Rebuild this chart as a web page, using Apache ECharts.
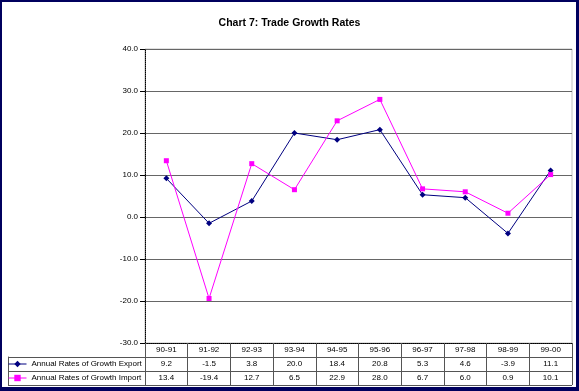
<!DOCTYPE html>
<html>
<head>
<meta charset="utf-8">
<script src="https://cdn.jsdelivr.net/npm/echarts@6/dist/echarts.min.js"></script>
<style>
html,body{margin:0;padding:0;background:#fff;}
#wrap{position:relative;width:579px;height:391px;}
#chart{position:absolute;left:0;top:0;width:579px;height:391px;}
#frame{position:absolute;left:0;top:0;width:579px;height:391px;box-sizing:border-box;border-style:solid;border-color:#00005e;border-width:2px 3px 4px 2px;pointer-events:none;}
</style>
</head>
<body>
<div id="wrap"><div id="chart"></div><div id="frame"></div></div>
<script>
const categories = ['90-91','91-92','92-93','93-94','94-95','95-96','96-97','97-98','98-99','99-00'];
const exportsGrowth = [9.2, -1.5, 3.8, 20.0, 18.4, 20.8, 5.3, 4.6, -3.9, 11.1];
const importsGrowth = [13.4, -19.4, 12.7, 6.5, 22.9, 28.0, 6.7, 6.0, 0.9, 10.1];
const yTicks = {min: -30, max: 40, interval: 10};
const titleText = 'Chart 7: Trade Growth Rates';
const exportsName = 'Annual Rates of Growth Exports';
const importsName = 'Annual Rates of Growth Imports';

const FONT = 'Liberation Sans, Arial, sans-serif';
const tableLine = {color: '#555', width: 1, type: 'solid'};
const chart = echarts.init(document.getElementById('chart'), null, {renderer: 'canvas'});

function valAxis(values, offset) {
  return {
    type: 'category', gridIndex: 0, position: 'bottom', offset: offset,
    data: categories, boundaryGap: true,
    axisLine: {show: false}, axisTick: {show: false}, splitLine: {show: false},
    axisLabel: {interval: 0, margin: 3, fontSize: 8, fontFamily: FONT, color: '#000',
      formatter: (v, i) => values[i].toFixed(1)}
  };
}

chart.setOption({
  backgroundColor: '#fff',
  animation: false,
  title: {text: titleText, left: 'center', top: 13,
    textStyle: {fontSize: 10.5, fontWeight: 'bold', fontFamily: FONT, color: '#000'}},
  legend: {
    orient: 'vertical', left: 8, top: 360, itemGap: 6, itemWidth: 18, itemHeight: 8,
    padding: 0,
    lineStyle: {width: 1},
    textStyle: {fontSize: 8, fontFamily: FONT, color: '#000', width: 114, overflow: 'truncate', ellipsis: ''},
    data: [exportsName, importsName]
  },
  grid: [
    {left: 145, right: 7, top: 49, bottom: 48, show: true, borderColor: '#c0c0c0', borderWidth: 1, backgroundColor: 'transparent'},
    {left: 8, right: 7, top: 357, height: 28, show: false}
  ],
  xAxis: [
    {type: 'category', gridIndex: 0, position: 'bottom', data: categories, boundaryGap: true,
      axisLine: {show: true, onZero: false, lineStyle: {color: '#000', width: 1, type: 'dotted'}},
      axisTick: {show: true, interval: 0, length: 42, lineStyle: tableLine},
      axisLabel: {interval: 0, margin: 3, fontSize: 8, fontFamily: FONT, color: '#000'},
      splitLine: {show: false}},
    valAxis(exportsGrowth, 14),
    valAxis(importsGrowth, 28),
    {type: 'value', gridIndex: 1, min: 0, max: 1, show: false}
  ],
  yAxis: [
    {type: 'value', gridIndex: 0, min: yTicks.min, max: yTicks.max, interval: yTicks.interval,
      axisLine: {show: true, lineStyle: {color: '#000', type: 'dotted'}},
      axisTick: {show: true, length: 5, lineStyle: {color: '#000'}},
      axisLabel: {fontSize: 8, fontFamily: FONT, color: '#000', margin: 7, formatter: v => v.toFixed(1)},
      splitLine: {show: true, lineStyle: {color: '#666', width: 1}}},
    {type: 'value', gridIndex: 1, min: 0, max: 2, interval: 1,
      axisLine: {show: true, lineStyle: tableLine},
      axisTick: {show: false}, axisLabel: {show: false},
      splitLine: {show: true, lineStyle: tableLine}}
  ],
  series: [
    {name: exportsName, type: 'line', xAxisIndex: 0, yAxisIndex: 0, data: exportsGrowth,
      symbol: 'diamond', symbolSize: 6, color: '#000080',
      lineStyle: {color: '#000080', width: 1}, itemStyle: {color: '#000080'}},
    {name: importsName, type: 'line', xAxisIndex: 0, yAxisIndex: 0, data: importsGrowth,
      symbol: 'rect', symbolSize: 5, color: '#ff00ff',
      lineStyle: {color: '#ff00ff', width: 1}, itemStyle: {color: '#ff00ff'}}
  ]
});
</script>
</body>
</html>
